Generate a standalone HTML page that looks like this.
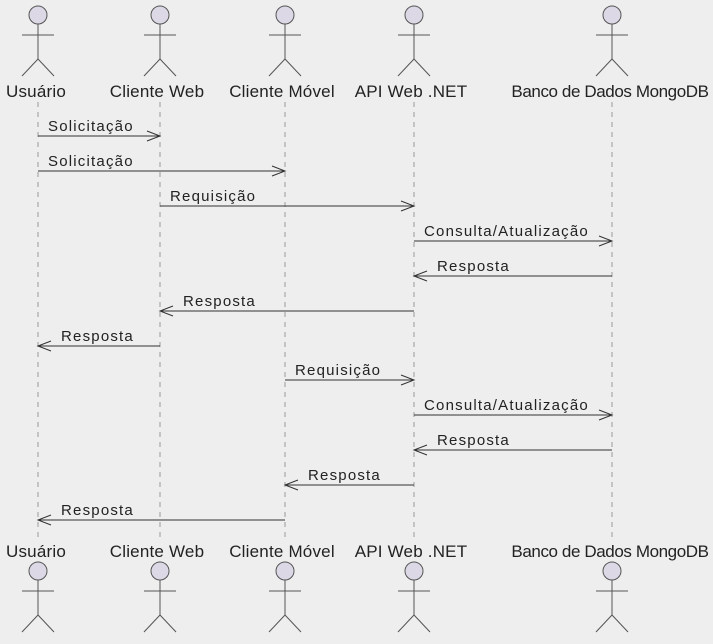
<!DOCTYPE html>
<html><head><meta charset="utf-8"><style>body{margin:0;background:#eeeeee}</style></head><body>
<svg width="713" height="639" xmlns="http://www.w3.org/2000/svg" font-family="Liberation Sans, sans-serif">
<rect width="713" height="639" fill="#eeeeee"/>
<defs>
<g id="actor" stroke="#555" stroke-width="1" fill="none">
<circle cx="0" cy="0" r="9" fill="#dcd8e6" stroke="#555"/>
<line x1="0" y1="9" x2="0" y2="44"/>
<line x1="-16" y1="20" x2="16" y2="20"/>
<line x1="0" y1="44" x2="-16" y2="61"/>
<line x1="0" y1="44" x2="16" y2="61"/>
</g>
</defs>
<g stroke="#999" stroke-width="1" stroke-dasharray="5,5">
<line x1="38" y1="102" x2="38" y2="542"/>
<line x1="160" y1="102" x2="160" y2="542"/>
<line x1="285" y1="102" x2="285" y2="542"/>
<line x1="414" y1="102" x2="414" y2="542"/>
<line x1="612" y1="102" x2="612" y2="542"/>
</g>
<use href="#actor" x="38" y="15"/><use href="#actor" x="160" y="15"/><use href="#actor" x="285" y="15"/><use href="#actor" x="414" y="15"/><use href="#actor" x="612" y="15"/>
<use href="#actor" x="38" y="571"/><use href="#actor" x="160" y="571"/><use href="#actor" x="285" y="571"/><use href="#actor" x="414" y="571"/><use href="#actor" x="612" y="571"/>
<g font-size="17" fill="#222" text-anchor="middle" letter-spacing="0.2">
<text x="36" y="97">Usuário</text><text x="157" y="97">Cliente Web</text><text x="282" y="97">Cliente Móvel</text><text x="411" y="97">API Web .NET</text><text x="610" y="97" letter-spacing="-0.4">Banco de Dados MongoDB</text>
<text x="36" y="557">Usuário</text><text x="157" y="557">Cliente Web</text><text x="282" y="557">Cliente Móvel</text><text x="411" y="557">API Web .NET</text><text x="610" y="557" letter-spacing="-0.4">Banco de Dados MongoDB</text>
</g>
<g stroke="#333" stroke-width="1" fill="none">
<line x1="38" y1="136" x2="160" y2="136"/><polyline points="147,131 160,136 147,141"/>
<line x1="38" y1="171" x2="285" y2="171"/><polyline points="272,166 285,171 272,176"/>
<line x1="160" y1="206" x2="414" y2="206"/><polyline points="401,201 414,206 401,211"/>
<line x1="414" y1="241" x2="612" y2="241"/><polyline points="599,236 612,241 599,246"/>
<line x1="414" y1="276" x2="612" y2="276"/><polyline points="427,271 414,276 427,281"/>
<line x1="160" y1="311" x2="414" y2="311"/><polyline points="173,306 160,311 173,316"/>
<line x1="38" y1="346" x2="160" y2="346"/><polyline points="51,341 38,346 51,351"/>
<line x1="285" y1="380" x2="414" y2="380"/><polyline points="401,375 414,380 401,385"/>
<line x1="414" y1="415" x2="612" y2="415"/><polyline points="599,410 612,415 599,420"/>
<line x1="414" y1="450" x2="612" y2="450"/><polyline points="427,445 414,450 427,455"/>
<line x1="285" y1="485" x2="414" y2="485"/><polyline points="298,480 285,485 298,490"/>
<line x1="38" y1="520" x2="285" y2="520"/><polyline points="51,515 38,520 51,525"/>
</g>
<g font-size="15" fill="#222" letter-spacing="1.2">
<text x="48" y="131">Solicitação</text>
<text x="48" y="166">Solicitação</text>
<text x="170" y="201">Requisição</text>
<text x="424" y="236">Consulta/Atualização</text>
<text x="437" y="271">Resposta</text>
<text x="183" y="306">Resposta</text>
<text x="61" y="341">Resposta</text>
<text x="295" y="375">Requisição</text>
<text x="424" y="410">Consulta/Atualização</text>
<text x="437" y="445">Resposta</text>
<text x="308" y="480">Resposta</text>
<text x="61" y="515">Resposta</text>
</g>
</svg>
</body></html>
